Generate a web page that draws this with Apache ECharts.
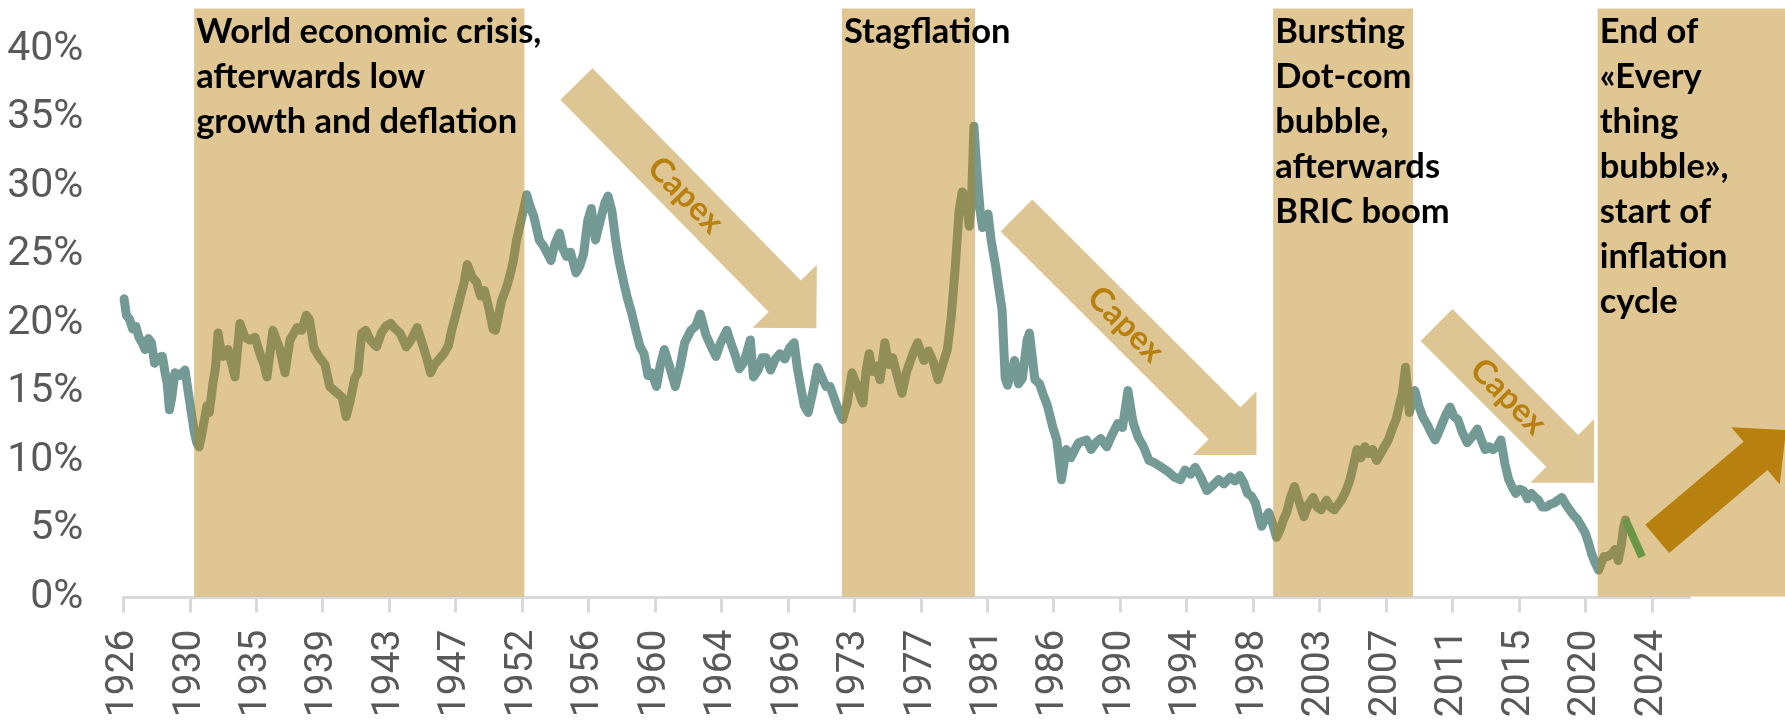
<!DOCTYPE html>
<html>
<head>
<meta charset="utf-8">
<script src="https://cdn.jsdelivr.net/npm/echarts@6/dist/echarts.min.js"></script>
<style>
  html, body { margin: 0; padding: 0; background: #ffffff; }
  #chart { width: 1785px; height: 727px; }
</style>
</head>
<body>
<div id="chart"></div>
<script>
// Long-run series: decimal year and percent
const years = [
  1926.55, 1926.7, 1926.9, 1927.1, 1927.3, 1927.5, 1927.7, 1927.9, 1928.1, 1928.3, 1928.5, 1928.7, 1929.0, 1929.2, 1929.3, 1929.45, 1929.6, 1929.8,
  1930.1, 1930.45, 1930.64, 1930.89, 1931.05, 1931.2, 1931.35, 1931.5, 1931.85, 1932.0, 1932.24, 1932.4, 1932.56, 1932.75, 1932.88, 1933.2, 1933.45, 1933.64, 1933.96,
  1934.28, 1934.6, 1934.92, 1935.24, 1935.5, 1935.69, 1935.9, 1936.07, 1936.52, 1936.84, 1937.16, 1937.61, 1937.9, 1938.2, 1938.4, 1938.7, 1939.0, 1939.4, 1939.7,
  1940.1, 1940.5, 1940.75, 1941.0, 1941.3, 1941.5, 1941.75, 1942.0, 1942.3, 1942.7, 1943.0, 1943.3, 1943.6, 1943.9, 1944.2, 1944.6, 1944.9, 1945.3, 1945.6, 1945.9,
  1946.15, 1946.4, 1946.7, 1947.0, 1947.3, 1947.5, 1947.8, 1948.0, 1948.3, 1948.5, 1948.8, 1949.1, 1949.35, 1949.6, 1949.9, 1950.15, 1950.3, 1950.5, 1950.7, 1951.0,
  1951.2, 1951.45, 1951.65, 1951.9, 1952.1, 1952.3, 1952.5, 1952.76, 1953.1, 1953.4, 1953.85, 1954.1, 1954.4, 1954.6, 1954.84, 1955.1, 1955.45, 1955.7, 1955.94,
  1956.2, 1956.43, 1956.7, 1957.0, 1957.3, 1957.5, 1957.75, 1958.0, 1958.2, 1958.5, 1958.75, 1959.0, 1959.3, 1959.55, 1959.8, 1960.05, 1960.3, 1960.6, 1960.85,
  1961.1, 1961.4, 1961.8, 1962.1, 1962.4, 1962.8, 1963.1, 1963.4, 1963.75, 1964.1, 1964.4, 1964.7, 1965.1, 1965.35, 1965.6, 1965.9, 1966.2, 1966.6, 1966.8,
  1967.1, 1967.35, 1967.6, 1967.9, 1968.2, 1968.5, 1968.8, 1969.1, 1969.4, 1969.6, 1969.85, 1970.05, 1970.3, 1970.6, 1970.9, 1971.2, 1971.45, 1971.7, 1971.95,
  1972.25, 1972.5, 1972.8, 1973.1, 1973.4, 1973.65, 1973.8, 1974.0, 1974.2, 1974.4, 1974.65, 1974.9, 1975.2, 1975.45, 1975.7, 1975.95, 1976.3, 1976.6, 1977.0,
  1977.3, 1977.7, 1978.0, 1978.3, 1978.6, 1978.9, 1979.2, 1979.45, 1979.7, 1979.95, 1980.15, 1980.4, 1980.6, 1980.75, 1980.9, 1981.1, 1981.3, 1981.45, 1981.8,
  1982.0, 1982.3, 1982.5, 1982.7, 1982.9, 1983.05, 1983.3, 1983.5, 1983.75, 1984.0, 1984.3, 1984.45, 1984.8, 1985.1, 1985.3, 1985.6, 1985.95, 1986.2, 1986.5,
  1986.8, 1987.1, 1987.4, 1987.6, 1988.1, 1988.4, 1988.7, 1989.0, 1989.4, 1989.7, 1990.1, 1990.4, 1990.75, 1991.0, 1991.1, 1991.4, 1991.75, 1992.1, 1992.5,
  1992.9, 1993.3, 1993.7, 1994.1, 1994.4, 1994.75, 1995.05, 1995.4, 1995.8, 1996.2, 1996.55, 1996.9, 1997.3, 1997.6, 1997.9, 1998.15, 1998.4, 1998.65, 1998.9,
  1999.1, 1999.3, 1999.5, 1999.75, 2000.0, 2000.25, 2000.5, 2000.7, 2000.9, 2001.15, 2001.4, 2001.7, 2002.0, 2002.3, 2002.6, 2002.85, 2003.1, 2003.45, 2003.7,
  2003.95, 2004.2, 2004.4, 2004.7, 2004.95, 2005.2, 2005.4, 2005.65, 2005.9, 2006.15, 2006.4, 2006.65, 2006.9, 2007.15, 2007.4, 2007.65, 2007.9, 2008.1, 2008.3,
  2008.5, 2008.65, 2008.75, 2008.9, 2009.1, 2009.35, 2009.6, 2009.9, 2010.15, 2010.4, 2010.6, 2010.85, 2011.1, 2011.35, 2011.6, 2011.85, 2012.15, 2012.45, 2012.8,
  2013.1, 2013.35, 2013.6, 2013.85, 2014.1, 2014.35, 2014.6, 2014.85, 2015.1, 2015.35, 2015.55, 2015.8, 2016.05, 2016.3, 2016.55, 2016.8, 2017.0, 2017.25, 2017.5,
  2017.75, 2018.0, 2018.25, 2018.5, 2018.75, 2019.0, 2019.25, 2019.5, 2019.75, 2020.0, 2020.2, 2020.4, 2020.6, 2020.85, 2021.05, 2021.2, 2021.45, 2021.7, 2021.9,
  2022.1, 2022.3, 2022.45, 2022.57
];
const values = [
  21.8, 20.6, 20.3, 19.6, 19.8, 19.0, 18.6, 18.1, 18.9, 18.6, 17.1, 17.5, 17.6, 16.2, 15.7, 13.7, 14.6, 16.4,
  16.2, 16.6, 15.1, 13.2, 12.0, 11.3, 11.0, 11.8, 14.0, 13.5, 15.7, 16.8, 19.3, 18.0, 17.6, 18.1, 17.0, 16.1, 20.0,
  19.0, 18.8, 19.0, 17.8, 17.0, 16.1, 18.0, 19.5, 18.1, 16.4, 18.8, 19.7, 19.5, 20.6, 20.3, 18.2, 17.6, 17.0, 15.4,
  15.0, 14.6, 13.2, 14.3, 16.0, 16.4, 19.3, 19.5, 18.8, 18.3, 19.3, 19.8, 20.0, 19.6, 19.3, 18.3, 18.8, 19.7, 18.6, 17.5,
  16.4, 17.0, 17.4, 17.8, 18.4, 19.5, 20.8, 21.7, 23.0, 24.3, 23.4, 23.0, 22.0, 22.4, 21.0, 19.6, 19.5, 20.6, 21.7, 22.6,
  23.4, 24.6, 26.1, 27.3, 28.3, 29.4, 28.6, 27.8, 26.1, 25.6, 24.6, 25.8, 26.6, 25.5, 24.9, 25.2, 23.7, 24.2, 25.1,
  27.5, 28.4, 26.1, 27.5, 28.8, 29.3, 28.2, 26.0, 24.6, 23.0, 21.8, 20.8, 19.4, 18.3, 17.8, 16.2, 16.4, 15.4, 17.0,
  18.1, 17.0, 15.4, 16.8, 18.6, 19.5, 19.8, 20.7, 19.2, 18.3, 17.6, 18.6, 19.5, 18.6, 17.8, 16.7, 17.2, 18.8, 16.1,
  16.6, 17.5, 17.5, 16.6, 17.4, 17.8, 17.4, 18.2, 18.6, 16.8, 15.2, 14.0, 13.5, 15.0, 16.8, 16.0, 15.4, 15.4, 14.6,
  13.6, 13.0, 14.2, 16.4, 15.5, 14.6, 14.2, 16.5, 17.8, 16.5, 16.9, 15.9, 18.6, 17.0, 17.5, 16.4, 14.9, 16.5, 17.8,
  18.6, 17.3, 18.0, 17.2, 15.9, 17.0, 18.1, 20.5, 24.0, 28.2, 29.6, 29.2, 27.1, 29.0, 34.4, 31.0, 28.2, 27.0, 28.0,
  26.1, 24.1, 22.5, 21.0, 16.0, 15.5, 16.5, 17.3, 15.6, 16.0, 18.8, 19.3, 15.9, 15.6, 14.9, 14.0, 12.4, 11.5, 8.6,
  10.8, 10.2, 10.9, 11.3, 11.5, 10.8, 11.3, 11.6, 11.0, 11.8, 12.7, 12.4, 15.1, 13.3, 12.7, 11.7, 11.0, 10.0, 9.8,
  9.5, 9.2, 8.8, 8.6, 9.3, 9.0, 9.5, 8.8, 7.8, 8.2, 8.6, 8.3, 8.8, 8.5, 8.9, 8.4, 7.6, 7.4, 6.9,
  6.0, 5.2, 5.7, 6.2, 5.4, 4.4, 5.0, 5.7, 6.2, 7.3, 8.1, 7.0, 5.9, 6.8, 7.3, 6.6, 6.4, 7.1, 6.6,
  6.4, 6.8, 7.1, 7.8, 8.6, 9.8, 10.8, 10.2, 11.0, 10.5, 10.8, 10.0, 10.5, 11.0, 11.5, 12.3, 13.0, 14.0, 14.9,
  16.8, 15.0, 13.5, 14.2, 15.1, 14.0, 13.2, 12.6, 12.0, 11.5, 12.0, 12.7, 13.4, 13.9, 13.2, 13.0, 12.0, 11.3, 11.8,
  12.3, 11.5, 10.8, 11.0, 10.8, 11.0, 11.5, 9.8, 8.6, 8.0, 7.6, 7.9, 7.8, 7.2, 7.6, 7.3, 7.1, 6.6, 6.6,
  6.8, 6.9, 7.1, 7.3, 6.8, 6.4, 6.0, 5.7, 5.2, 4.7, 4.0, 3.2, 2.6, 2.0, 2.6, 3.0, 3.0, 3.2, 3.5,
  2.7, 3.8, 5.1, 5.66
];

// Most recent readings, drawn in green
const recentYears = [2022.57, 2023.63];
const recentValues = [5.66, 2.96];

// X-axis ticks: positions (decimal years) and their labels
const tickYears = [1926.5, 1930.75, 1935, 1939.25, 1943.5, 1947.75, 1952, 1956.25, 1960.5, 1964.75, 1969, 1973.25,
  1977.5, 1981.75, 1986, 1990.25, 1994.5, 1998.75, 2003, 2007.25, 2011.5, 2015.75, 2020, 2024.25];
const tickLabels = ['1926', '1930', '1935', '1939', '1943', '1947', '1952', '1956', '1960', '1964', '1969', '1973',
  '1977', '1981', '1986', '1990', '1994', '1998', '2003', '2007', '2011', '2015', '2020', '2024'];

// Highlighted periods
const periodStart = [1931.03, 1972.46, 2000.04, 2020.79];
const periodEnd = [1952.15, 1980.97, 2008.99, 2034];
const periodTop = 43;
const periodText = [
  'World economic crisis,\nafterwards low\ngrowth and deflation',
  'Stagflation',
  'Bursting\nDot-com\nbubble,\nafterwards\nBRIC boom',
  'End of\n\u00abEvery\nthing\nbubble\u00bb,\nstart of\ninflation\ncycle'
];

// "Capex" arrows: tail and tip in [year, percent]
const capexFrom = [[1955.48, 37.48], [1983.62, 27.88], [2010.49, 19.89]];
const capexTo = [[1970.82, 19.65], [1998.97, 10.40], [2020.56, 8.38]];
const capexText = 'Capex';
// Outlook arrow
const outlookFrom = [2024.6, 4.28];
const outlookTo = [2032.84, 12.23];

const TEAL = '#739a94';
const SHADE = 'rgba(184,128,16,0.45)';
const TAN = '#dec594';
const GOLD = '#b8800e';
const GREEN = '#6b964a';
const AXIS_GREY = '#d9d9d9';
const LABEL_GREY = '#595959';

const chart = echarts.init(document.getElementById('chart'), null, { renderer: 'canvas' });

const option = {
  animation: false,
  backgroundColor: '#ffffff',
  grid: { left: 123.3, right: 95.4, top: 49.5, bottom: 129.5, containLabel: false },
  xAxis: {
    type: 'value',
    min: 1926.5,
    max: 2026.67,
    axisLine: { show: true, onZero: true, lineStyle: { color: AXIS_GREY, width: 3 } },
    axisTick: { show: true, length: 15, customValues: tickYears, lineStyle: { color: AXIS_GREY, width: 3 } },
    axisLabel: {
      customValues: tickYears,
      rotate: 90,
      margin: 32,
      fontSize: 39,
      fontFamily: 'Roboto',
      color: LABEL_GREY,
      formatter: function (v) {
        const i = tickYears.findIndex(function (t) { return Math.abs(t - v) < 0.01; });
        return i >= 0 ? tickLabels[i] : '';
      }
    },
    splitLine: { show: false }
  },
  yAxis: {
    type: 'value',
    min: 0,
    max: 40,
    interval: 5,
    axisLine: { show: false },
    axisTick: { show: false },
    splitLine: { show: false },
    axisLabel: { formatter: '{value}%', fontSize: 41, fontFamily: 'Roboto', color: LABEL_GREY, margin: 40 }
  },
  series: [
    {
      type: 'line',
      data: years.map(function (y, i) { return [y, values[i]]; }),
      symbol: 'none',
      z: 2,
      silent: true,
      lineStyle: { color: TEAL, width: 9, cap: 'round', join: 'round' }
    },
    {
      type: 'line',
      data: recentYears.map(function (y, i) { return [y, recentValues[i]]; }),
      symbol: 'none',
      z: 20,
      silent: true,
      lineStyle: { color: GREEN, width: 8 }
    }
  ]
};

chart.setOption(option);

function px(x, y) { return chart.convertToPixel({ gridIndex: 0 }, [x, y]); }

// Block arrow polygon from tail to tip
function arrowPoints(p0, p1, shaftW, headW, headL) {
  const dx = p1[0] - p0[0], dy = p1[1] - p0[1];
  const len = Math.sqrt(dx * dx + dy * dy);
  const ux = dx / len, uy = dy / len;
  const nx = -uy, ny = ux;
  const nk = [p0[0] + ux * (len - headL), p0[1] + uy * (len - headL)];
  const s = shaftW / 2, h = headW / 2;
  return [
    [p0[0] + nx * s, p0[1] + ny * s],
    [nk[0] + nx * s, nk[1] + ny * s],
    [nk[0] + nx * h, nk[1] + ny * h],
    [p1[0], p1[1]],
    [nk[0] - nx * h, nk[1] - ny * h],
    [nk[0] - nx * s, nk[1] - ny * s],
    [p0[0] - nx * s, p0[1] - ny * s]
  ];
}

const elements = [];

// Shaded periods and their captions
periodStart.forEach(function (start, i) {
  const a = px(start, periodTop);
  const b = px(periodEnd[i], 0);
  elements.push({
    type: 'rect', z: 10, silent: true,
    shape: { x: a[0], y: a[1], width: b[0] - a[0], height: b[1] - a[1] - 1 },
    style: { fill: SHADE }
  });
  elements.push({
    type: 'text', z: 15, silent: true,
    x: a[0] + 2, y: a[1] + 1,
    style: {
      text: periodText[i],
      fontFamily: 'Lato', fontWeight: 'bold', fontSize: 34.5, lineHeight: 45,
      fill: '#000000', align: 'left', verticalAlign: 'top'
    }
  });
});

// Capex arrows with their labels
capexFrom.forEach(function (from, i) {
  const p0 = px(from[0], from[1]);
  const p1 = px(capexTo[i][0], capexTo[i][1]);
  elements.push({
    type: 'polygon', z: 1, silent: true,
    shape: { points: arrowPoints(p0, p1, 45, 90, 45) },
    style: { fill: TAN }
  });
  const ang = Math.atan2(p1[1] - p0[1], p1[0] - p0[0]);
  const t = 0.455;
  elements.push({
    type: 'text', z: 1, silent: true,
    x: p0[0] + (p1[0] - p0[0]) * t,
    y: p0[1] + (p1[1] - p0[1]) * t,
    rotation: -ang,
    style: {
      text: capexText,
      fontFamily: 'Lato', fontWeight: 'bold', fontSize: 33,
      fill: GOLD, align: 'center', verticalAlign: 'middle'
    }
  });
});

// Outlook arrow
elements.push({
  type: 'polygon', z: 12, silent: true,
  shape: { points: arrowPoints(px(outlookFrom[0], outlookFrom[1]), px(outlookTo[0], outlookTo[1]), 37, 75, 40) },
  style: { fill: GOLD }
});

chart.setOption({ graphic: { elements: elements } });
</script>
</body>
</html>
